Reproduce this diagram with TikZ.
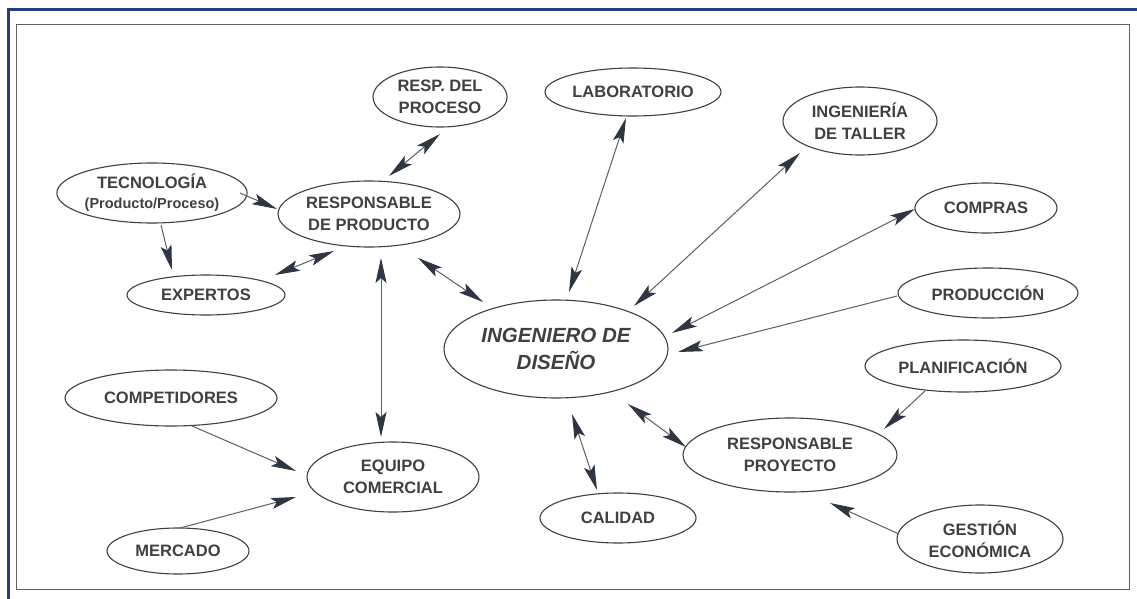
\documentclass[tikz,border=0pt]{standalone}
\usepackage{fontspec}
\setmainfont{Liberation Sans}
\usetikzlibrary{shapes.geometric,arrows.meta,calc}
\definecolor{framenavy}{HTML}{23407A}
\definecolor{ink}{HTML}{404040}
\definecolor{shaft}{HTML}{5E5E5E}
\definecolor{headc}{HTML}{2E3644}

\begin{document}
\begin{tikzpicture}[x=1pt,y=-1pt,
  oval/.style={ellipse,draw=ink,line width=1.1pt,inner sep=0pt,align=center,
    text=ink,font=\fontsize{16.5}{22}\selectfont\bfseries},
  link/.style={draw=shaft,line width=1pt},
  >={Stealth[length=25pt,width=11pt,inset=5pt,color=headc,fill=headc]}
]
% page and frames
\fill[white] (0,0) rectangle (1137,599);
\useasboundingbox (0,0) rectangle (1137,599);
\draw[framenavy,line width=3pt] (8.5,599) -- (8.5,9.5) -- (1137,9.5);
\draw[gray!75!black,line width=0.8pt] (16,24) rectangle (1129,589);

% nodes
\node[oval,minimum width=134,minimum height=60] (proc) at (440,97) {RESP. DEL\\PROCESO};
\node[oval,minimum width=176,minimum height=48] (lab) at (633,92) {LABORATORIO};
\node[oval,minimum width=154,minimum height=68] (taller) at (860,121) {INGENIERÍA\\DE TALLER};
\node[oval,minimum width=142,minimum height=50] (compras) at (986,208) {COMPRAS};
\node[oval,minimum width=180,minimum height=50] (produccion) at (988,293) {PRODUCCIÓN};
\node[oval,minimum width=196,minimum height=52] (planif) at (963,366) {PLANIFICACIÓN};
\node[oval,minimum width=214,minimum height=74] (rproy) at (790,455) {RESPONSABLE\\PROYECTO};
\node[oval,minimum width=166,minimum height=68] (gestion) at (980,539) {GESTIÓN\\ECONÓMICA};
\node[oval,minimum width=156,minimum height=50] (calidad) at (618,518) {CALIDAD};
\node[oval,minimum width=224,minimum height=98,font=\fontsize{20.5}{27}\selectfont\bfseries\itshape] (diseno) at (556,349) {INGENIERO DE\\DISEÑO};
\node[oval,minimum width=172,minimum height=70] (equipo) at (393,477) {EQUIPO\\COMERCIAL};
\node[oval,minimum width=212,minimum height=56] (compet) at (171,398) {COMPETIDORES};
\node[oval,minimum width=142,minimum height=46] (mercado) at (178,551) {MERCADO};
\node[oval,minimum width=176,minimum height=60] (tecno) at (152,193) {TECNOLOGÍA\\[-2pt]{\fontsize{14.5}{18}\selectfont(Producto/Proceso)}};
\node[oval,minimum width=158,minimum height=40] (expertos) at (206,295) {EXPERTOS};
\node[oval,minimum width=182,minimum height=66] (rprod) at (369,214) {RESPONSABLE\\DE PRODUCTO};

% connectors
\draw[link,<->] ($(rprod)+(20,-38)$) -- ($(proc)+(0,37)$);
\draw[link,<->] ($(lab)+(-7,26)$) -- ($(diseno)+(13,-57)$);
\draw[link,<->] ($(taller)+(-60,32)$) -- ($(diseno)+(78,-43)$);
\draw[link,<->] ($(compras)+(-71,1)$) -- ($(diseno)+(116,-16)$);
\draw[link,->] ($(produccion)+(-91,3)$) -- ($(diseno)+(122,3)$);
\draw[link,<->] ($(diseno)+(72,55)$) -- ($(rproy)+(-104,-8)$);
\draw[link,<->] ($(calidad)+(-21,-28)$) -- ($(diseno)+(16,65)$);
\draw[link,<->] ($(rprod)+(49,44)$) -- ($(diseno)+(-73,-47)$);
\draw[link,<->] ($(rprod)+(12,44)$) -- ($(equipo)+(-12,-40)$);
\draw[link,<->] ($(expertos)+(69,-20)$) -- ($(rprod)+(-35,37)$);
\draw[link,->] ($(tecno)+(88,0)$) -- ($(rprod)+(-92,-5)$);
\draw[link,->] ($(tecno)+(9,32)$) -- ($(expertos)+(-34,-25)$);
\draw[link,->] ($(compet)+(21,28)$) -- ($(equipo)+(-97,-6)$);
\draw[link,->] ($(mercado)+(2,-23)$) -- ($(equipo)+(-97,20)$);
\draw[link,->] ($(planif)+(-38,25)$) -- ($(rproy)+(94,-26)$);
\draw[link,->] ($(gestion)+(-81,-5)$) -- ($(rproy)+(40,48)$);
\end{tikzpicture}
\end{document}
